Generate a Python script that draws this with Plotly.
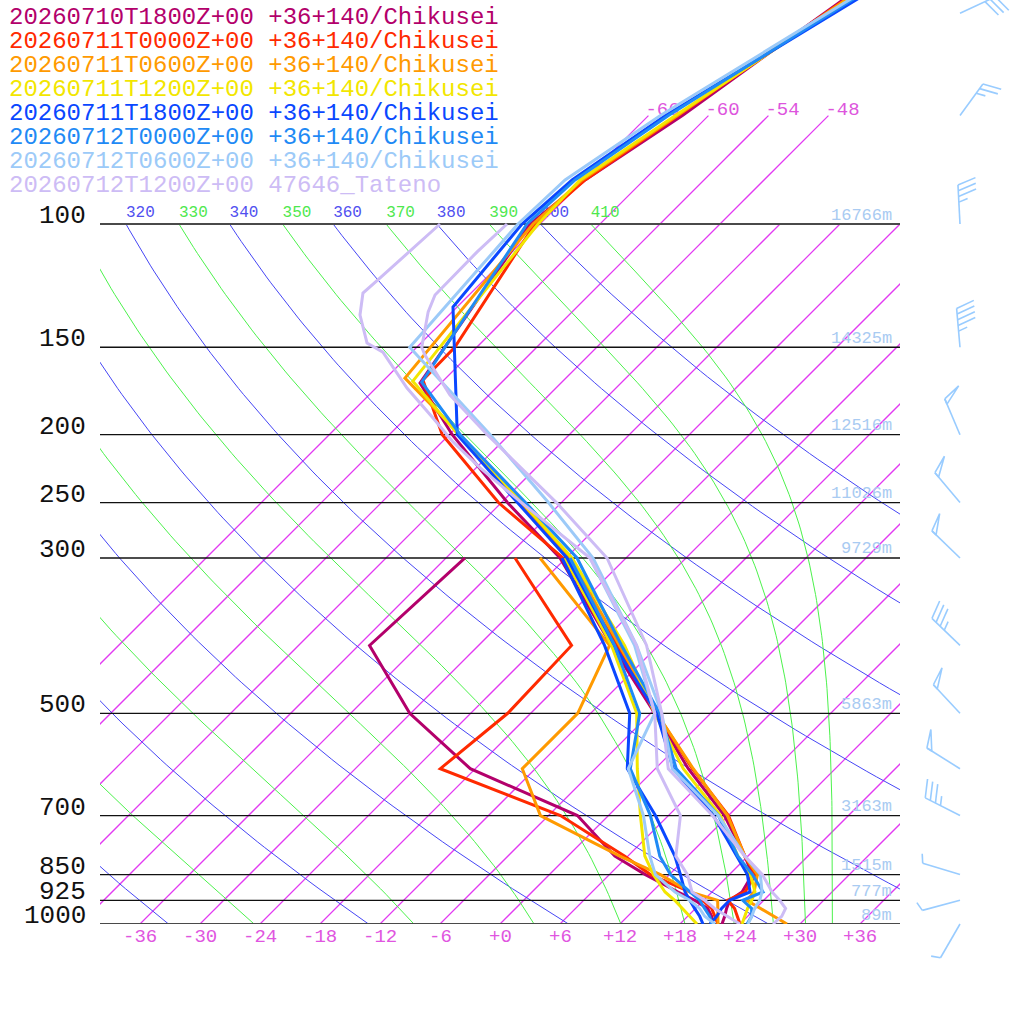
import numpy as np
import plotly.graph_objects as go

LEGEND_TEXT = [
    "20260710T1800Z+00 +36+140/Chikusei",
    "20260711T0000Z+00 +36+140/Chikusei",
    "20260711T0600Z+00 +36+140/Chikusei",
    "20260711T1200Z+00 +36+140/Chikusei",
    "20260711T1800Z+00 +36+140/Chikusei",
    "20260712T0000Z+00 +36+140/Chikusei",
    "20260712T0600Z+00 +36+140/Chikusei",
    "20260712T1200Z+00 47646_Tateno",
]
COLORS = ["#b3006b", "#ff2a00", "#ff9a00", "#f2e600",
          "#0a47ff", "#1f8af5", "#9ccaf8", "#cdbcf5"]

# lower levels shared by the forecast runs (hPa)
P_LOW = [1000, 975, 950, 925, 900, 850, 800, 700, 600, 500, 400, 300]

T_LOW_1 = [22.2, 21.7, 21.1, 20.6, 21.0, 20.3, 17.7, 11.6, 3.3, -5.6, -16.7, -30.6]
TD_LOW_1 = [21.2, 20.4, 19.2, 17.1, 14.6, 9.6, 4.7, -3.1, -18.5, -30.1, -40.9, -40.1]
P_UP_1 = [250, 200, 168.7, 100, 86.5, 70, 45]
T_UP_1 = [-41.4, -53.7, -62.1, -67.0, -65.9, -62.6, -57.4]

T_LOW_2 = [24.0, 23.0, 21.9, 20.4, 21.3, 20.6, 17.7, 12.0, 3.7, -5.4, -16.1, -30.3]
TD_LOW_2 = [21.8, 20.7, 19.6, 17.9, 15.8, 10.1, 5.7, -4.8, -21.5, -20.3, -20.7, -35.1]
P_UP_2 = [250, 200, 167.1, 150, 100, 86.5, 70, 45]
T_UP_2 = [-42.3, -54.7, -62.1, -62.2, -66.5, -65.9, -63.0, -57.1]

T_LOW_3 = [28.7, 26.6, 24.5, 22.3, 22.2, 20.8, 17.7, 11.9, 3.8, -5.4, -15.9, -29.6]
TD_LOW_3 = [21.8, 21.0, 20.2, 19.4, 15.8, 11.1, 5.2, -6.8, -13.3, -13.3, -16.9, -32.6]
P_UP_3 = [250, 200, 166, 100, 86.5, 70, 45]
T_UP_3 = [-40.3, -52.9, -64.1, -66.7, -66.2, -63.1, -57.0]

T_LOW_4 = [24.2, 23.7, 23.2, 22.8, 22.3, 20.1, 17.0, 11.2, 2.8, -5.6, -15.4, -29.4]
TD_LOW_4 = [19.7, 18.2, 16.6, 15.1, 13.3, 10.4, 7.7, 3.2, -1.8, -7.4, -16.7, -30.1]
P_UP_4 = [250, 200, 167.7, 100, 86.5, 70, 45]
T_UP_4 = [-39.9, -53.1, -63.0, -66.2, -66.4, -63.3, -56.6]

T_LOW_5 = [21.0, 20.9, 20.6, 20.6, 21.8, 19.8, 16.9, 10.5, 1.8, -5.4, -16.4, -29.9]
TD_LOW_5 = [20.3, 19.2, 17.9, 16.6, 15.3, 13.1, 10.7, 4.7, -2.8, -8.1, -17.4, -30.4]
P_UP_5 = [250, 200, 131.4, 100, 86.5, 70, 45]
T_UP_5 = [-40.4, -53.2, -66.4, -67.8, -67.2, -64.3, -55.6]

T_LOW_6 = [24.7, 24.4, 23.6, 21.9, 23.1, 20.3, 17.0, 11.0, 2.1, -5.1, -15.7, -28.9]
TD_LOW_6 = [21.2, 20.2, 18.9, 17.6, 15.8, 12.1, 9.2, 4.2, -2.5, -7.1, -16.4, -29.6]
P_UP_6 = [250, 200, 168.3, 100, 86.5, 70, 45]
T_UP_6 = [-39.6, -52.9, -62.0, -67.3, -66.9, -64.0, -56.1]

T_LOW_7 = [24.8, 24.4, 23.9, 23.6, 23.0, 21.1, 17.7, 11.0, 1.7, -4.9, -14.2, -27.3]
TD_LOW_7 = [21.5, 19.7, 18.4, 16.6, 14.3, 10.6, 8.2, 3.5, -2.7, -5.6, -14.4, -27.6]
P_UP_7 = [250, 200, 150, 100, 86.5, 70, 45]
T_UP_7 = [-37.3, -49.9, -66.7, -68.2, -67.9, -64.8, -56.3]

# Tateno radiosonde (own levels)
P_T8 = [1000, 975, 950, 925, 900, 850, 800, 700, 600, 500, 400, 300, 250, 200,
        175.5, 153.9, 150, 133.5, 126.3, 109.6, 100]
T_8 = [27.3, 27.4, 27.0, 25.6, 24.0, 21.3, 17.7, 10.4, 1.3, -4.9, -13.2, -25.9, -36.5, -50.2,
       -57.9, -64.4, -65.5, -68.4, -69.4, -69.5, -69.3]
P_TD8 = [1000, 950, 925, 900, 850, 800, 700, 600, 500, 400, 300, 250, 223, 204.8,
         189.3, 171.5, 152.4, 147.9, 134.9, 125.5, 119.5, 100]
TD_8 = [24.0, 19.9, 18.1, 16.0, 13.8, 10.8, 7.2, 0.2, -5.6, -14.2, -27.6, -40.0, -47.6, -52.9,
        -57.3, -62.9, -68.9, -71.4, -74.9, -76.8, -76.6, -76.0]

# wind barbs (knots)
WIND_P = [50, 70, 100, 150, 200, 250, 300, 400, 500, 600, 700, 850, 925, 1000]
WIND_DIR = [65, 36, 357, 355, 337, 320, 314, 314, 317, 302, 297, 287, 255, 210]
WIND_KT = [30, 25, 35, 45, 50, 50, 50, 35, 50, 50, 35, 5, 5, 5]

PRESSURE_LINES = [1000, 925, 850, 700, 500, 300, 250, 200, 150, 100]
HEIGHT_LABELS = ["89m", "777m", "1515m", "3163m", "5863m", "9729m",
                 "11026m", "12516m", "14325m", "16766m"]
ISOTHERMS = list(range(-66, 37, 6))
THETA_DRY = list(range(240, 401, 20))
THETA_E = list(range(250, 411, 20))

# ---------------- helpers ----------------
SKEW = 70.0          # deg C of shift per decade of pressure
PX_DECADE = 700.0    # pixels per decade of pressure
FONT = "Liberation Mono"


def skew_x(t, p):
    return np.asarray(t, float) + SKEW * np.log10(1000.0 / np.asarray(p, float))


def lift(p, px):
    # pressure that lies px pixels above p on the log axis
    return p * 10 ** (-px / PX_DECADE)


def theta_e_sat(tk, p):
    tc = tk - 273.15
    es = 6.112 * np.exp(17.67 * tc / (tc + 243.5))
    r = 622.0 * es / (p - es)
    return tk * (1000.0 / p) ** (0.2854 * (1 - 0.00028 * r)) * \
        np.exp((3.376 / tk - 0.00254) * r * (1 + 0.00081 * r))


def moist_adiabat(the, p):
    lo = np.full_like(p, 150.0)
    hi = np.full_like(p, 315.0)
    for _ in range(60):
        mid = 0.5 * (lo + hi)
        big = theta_e_sat(mid, p) > the
        hi = np.where(big, mid, hi)
        lo = np.where(big, lo, mid)
    return 0.5 * (lo + hi) - 273.15


def line(x, y, color, width, **kw):
    return go.Scatter(x=list(x), y=list(y), mode="lines",
                      line=dict(color=color, width=width), hoverinfo="skip", **kw)


fig = go.Figure()

# isotherms
for t in ISOTHERMS:
    ptop = 70 if t <= -48 else 100
    pi = np.logspace(3, np.log10(ptop), 30)
    fig.add_trace(line(skew_x(np.full_like(pi, t), pi), pi, "rgb(226,58,242)", 1.25))

# dry adiabats
pp = np.logspace(3, 2, 120)
for th in THETA_DRY:
    fig.add_trace(line(skew_x(th * (pp / 1000.0) ** 0.2857 - 273.15, pp), pp,
                       "rgb(70,70,245)", 1))

# moist adiabats
moist_curves = [moist_adiabat(float(th), pp) for th in THETA_E]
for tc in moist_curves:
    fig.add_trace(line(skew_x(tc, pp), pp, "rgb(76,242,76)", 1))

# labels of the adiabats at 100 hPa (only those reaching the frame)
lab_x, lab_t, lab_c = [], [], []
for th in THETA_DRY:
    x = float(skew_x(th * 0.1 ** 0.2857 - 273.15, 100))
    if x > -45:
        lab_x.append(x); lab_t.append(str(th)); lab_c.append("#5050f0")
for th, tc in zip(THETA_E, moist_curves):
    x = float(skew_x(tc[-1], 100))
    if x > -45:
        lab_x.append(x); lab_t.append(str(th)); lab_c.append("#4ee84e")
fig.add_trace(go.Scatter(
    x=lab_x, y=[lift(100, 11.5)] * len(lab_x), mode="text", text=lab_t,
    textposition="middle right", cliponaxis=True,
    textfont=dict(family=FONT, size=16, color=lab_c), hoverinfo="skip"))

# isotherm labels at the top end
top_iso = [t for t in ISOTHERMS if t <= -48]
fig.add_trace(go.Scatter(
    x=[float(skew_x(t, 70)) - 0.3 for t in top_iso], y=[lift(70, 5)] * len(top_iso),
    mode="text", text=["%+d" % t for t in top_iso], textposition="middle right",
    cliponaxis=False, textfont=dict(family=FONT, size=19, color="#dd55dd"),
    hoverinfo="skip"))

# isobars
for p in PRESSURE_LINES:
    edge = p in (100, 1000)
    fig.add_trace(line([-40, 40], [p, p], "#4a4a4a" if edge else "#111111",
                       2 if edge else 1.3))

# soundings
temps = [
    (P_LOW + P_UP_1, T_LOW_1 + T_UP_1, P_LOW, TD_LOW_1),
    (P_LOW + P_UP_2, T_LOW_2 + T_UP_2, P_LOW, TD_LOW_2),
    (P_LOW + P_UP_3, T_LOW_3 + T_UP_3, P_LOW, TD_LOW_3),
    (P_LOW + P_UP_4, T_LOW_4 + T_UP_4, P_LOW, TD_LOW_4),
    (P_LOW + P_UP_5, T_LOW_5 + T_UP_5, P_LOW, TD_LOW_5),
    (P_LOW + P_UP_6, T_LOW_6 + T_UP_6, P_LOW, TD_LOW_6),
    (P_LOW + P_UP_7, T_LOW_7 + T_UP_7, P_LOW, TD_LOW_7),
    (P_T8, T_8, P_TD8, TD_8),
]
for (pt, tt, pd, td), col in zip(temps, COLORS):
    fig.add_trace(line(skew_x(td, pd), pd, col, 3))
    fig.add_trace(line(skew_x(tt, pt), pt, col, 3))

# wind barbs in the right-hand column (x2 is in pixels, y2 shares the log scale)
STAFF, FULL, HALF, STEP = 39.0, 19.0, 9.5, 5.7
BASE_X = 60.0


def rot_cw(v, deg):
    a = np.radians(deg)
    return np.array([v[0] * np.cos(a) + v[1] * np.sin(a),
                     -v[0] * np.sin(a) + v[1] * np.cos(a)])


bx, by = [], []
for p, d, s in zip(WIND_P, WIND_DIR, WIND_KT):
    u = np.array([np.sin(np.radians(d)), np.cos(np.radians(d))])
    f = rot_cw(u, 70)

    def put(pts):
        for q in pts:
            bx.append(BASE_X + q[0])
            by.append(lift(p, q[1]))
        bx.append(None)
        by.append(None)

    put([np.zeros(2), u * STAFF])
    pos = STAFF
    n50, rest = divmod(int(round(s / 5.0)) * 5, 50)
    n10, n5 = divmod(rest, 10)
    for _ in range(n50):
        a = u * pos
        b = u * (pos - STEP)
        put([a, a + f * FULL, b, a])
        pos -= STEP + 1
    for _ in range(n10):
        a = u * pos
        put([a, a + f * FULL])
        pos -= STEP
    for _ in range(n5 // 5):
        a = u * pos
        put([a, a + f * HALF])
fig.add_trace(go.Scatter(x=bx, y=by, xaxis="x2", yaxis="y2", mode="lines",
                         line=dict(color="#99ccff", width=1.6), hoverinfo="skip"))

# ---------------- texts ----------------
ann = []
for i, (txt, col) in enumerate(zip(LEGEND_TEXT, COLORS)):
    ann.append(dict(xref="paper", yref="paper", x=0, y=1, xanchor="left", yanchor="middle",
                    xshift=-93, yshift=-17 - 24 * i, text=txt, showarrow=False,
                    font=dict(family=FONT, size=24, color=col)))
for p in PRESSURE_LINES:
    ann.append(dict(xref="paper", yref="y", x=0, y=np.log10(p), xanchor="right",
                    yanchor="middle", xshift=-12, yshift=8, text=str(p), showarrow=False,
                    font=dict(family=FONT, size=26, color="#111111")))
for p, h in zip(PRESSURE_LINES, HEIGHT_LABELS):
    ann.append(dict(xref="x", yref="y", x=39.4, y=np.log10(p), xanchor="right",
                    yanchor="middle", yshift=9, text=h, showarrow=False,
                    font=dict(family=FONT, size=17, color="#a9cbf2")))
for t in ISOTHERMS:
    ann.append(dict(xref="x", yref="y", x=t, y=3, xanchor="center", yanchor="middle",
                    yshift=-13, text="%+d" % t, showarrow=False,
                    font=dict(family=FONT, size=19, color="#e055e0")))

top_log = 3 - 924 / PX_DECADE
fig.update_layout(
    width=1024, height=1024,
    margin=dict(l=100, r=0, t=0, b=0),
    paper_bgcolor="white", plot_bgcolor="white",
    showlegend=False,
    xaxis=dict(range=[-40, 40], domain=[0, 800 / 924], anchor="y", showgrid=False,
               zeroline=False, showticklabels=False, ticks=""),
    yaxis=dict(type="log", range=[3, top_log], domain=[100 / 1024, 1], showgrid=False,
               zeroline=False, showticklabels=False, ticks=""),
    xaxis2=dict(range=[0, 124], domain=[800 / 924, 1], anchor="y2", showgrid=False,
                zeroline=False, showticklabels=False, ticks=""),
    yaxis2=dict(type="log", range=[3 + 100 / PX_DECADE, top_log], domain=[0, 1],
                anchor="x2", showgrid=False, zeroline=False, showticklabels=False, ticks=""),
    annotations=ann,
)

fig.write_html("out.html", config={"displayModeBar": False},
               post_script="document.body.style.margin='0';")
